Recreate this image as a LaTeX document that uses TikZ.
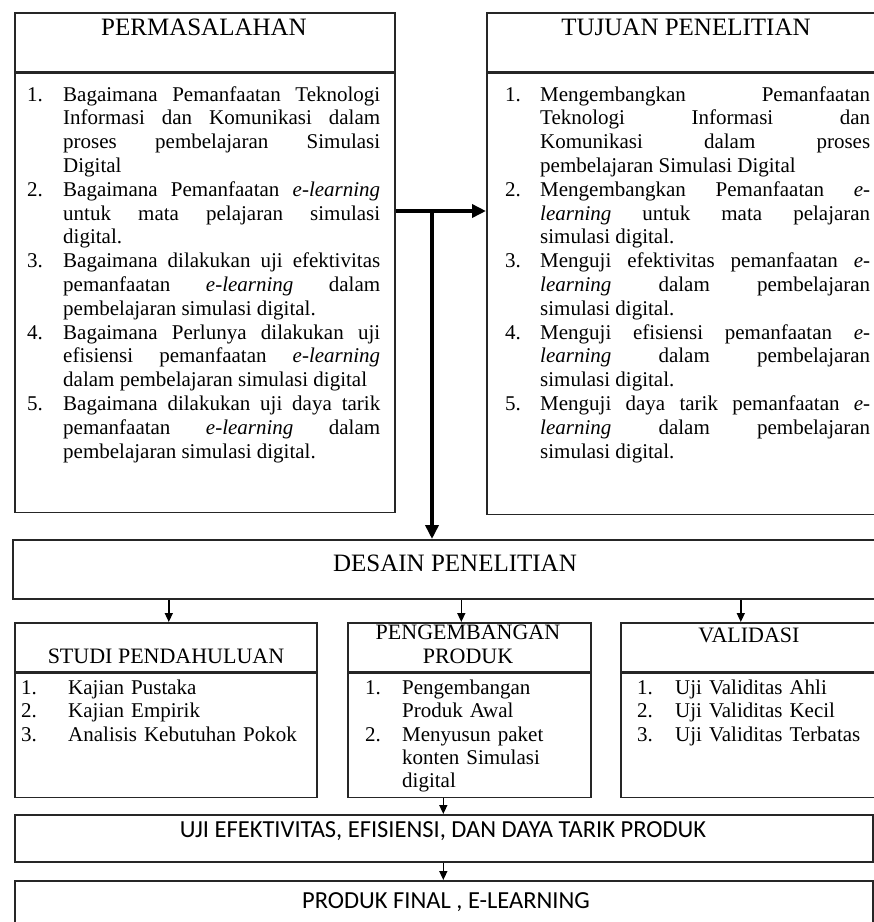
\documentclass[tikz,border=0pt]{standalone}
\usepackage{fontspec}
\setmainfont{Liberation Serif}
\newfontfamily\calibrifont{Carlito}
\usetikzlibrary{arrows.meta, positioning, calc}

\tolerance=10000
\hbadness=10000
\hyphenpenalty=10000
\exhyphenpenalty=10000

\newlength{\numind}
\newcommand{\itm}[2]{\par\noindent\hangindent=\numind\hangafter=1\makebox[\numind][l]{#1}#2\par}
\newcommand{\el}{\textit{e-learning}}
\newcommand{\topstrut}{\rule{0pt}{17pt}}

\tikzset{
  frame/.style={draw=black!85, line width=1.6pt, inner sep=0pt},
  titletext/.style={inner sep=0pt, anchor=base, font=\fontsize{25}{28}\selectfont},
  subtitle/.style={inner sep=0pt, anchor=base, font=\fontsize{22}{24}\selectfont},
  listtext/.style={inner sep=0pt, anchor=north west, align=justify, font=\fontsize{21}{23.8}\selectfont},
  bottomlist/.style={listtext, align=left, font=\fontsize{21}{23.3}\selectfont},
  sanstext/.style={inner sep=0pt, anchor=base, font=\calibrifont\fontsize{24.5}{28}\selectfont},
  bigarrow/.style={line width=3.5pt, -{Triangle[length=14pt,width=13pt]}},
  smallarrow/.style={line width=1.5pt, -{Triangle[length=9pt,width=8pt]}}
}

\begin{document}
\begin{tikzpicture}[x=1pt, y=-1pt]
  \useasboundingbox (0,0) rectangle (874,922);
  \clip (0,0) rectangle (874,922);

  % top boxes
  \node[frame, anchor=north west, minimum width=380pt, minimum height=59pt] (permhead) at (14,12) {};
  \node[frame, anchor=north, minimum width=380pt, minimum height=439pt] (permbody) at (permhead.south) {};
  \node[frame, anchor=north west, minimum width=400pt, minimum height=59pt] (tujuanhead) at (486,12) {};
  \node[frame, anchor=north, minimum width=400pt, minimum height=441pt] (tujuanbody) at (tujuanhead.south) {};

  \node[titletext] (permtitle) at (204,35) {PERMASALAHAN};
  \node[titletext] (tujuantitle) at (686,35) {TUJUAN PENELITIAN};

  \node[listtext, text width=353pt] (permlist) at (27,77) {%
    \setlength{\numind}{36pt}%
    \itm{\topstrut 1.}{Bagaimana Pemanfaatan Teknologi\linebreak Informasi dan Komunikasi dalam\linebreak proses pembelajaran Simulasi\linebreak Digital}
    \itm{2.}{Bagaimana Pemanfaatan \el\linebreak untuk mata pelajaran simulasi\linebreak digital.}
    \itm{3.}{Bagaimana dilakukan uji efektivitas\linebreak pemanfaatan \el{} dalam\linebreak pembelajaran simulasi digital.}
    \itm{4.}{Bagaimana Perlunya dilakukan uji\linebreak efisiensi pemanfaatan \el\linebreak dalam pembelajaran simulasi digital}
    \itm{5.}{Bagaimana dilakukan uji daya tarik\linebreak pemanfaatan \el{} dalam\linebreak pembelajaran simulasi digital.}};

  \node[listtext, text width=365pt] (tujuanlist) at (505,77) {%
    \setlength{\numind}{35pt}%
    \itm{\topstrut 1.}{Mengembangkan Pemanfaatan\linebreak Teknologi Informasi dan\linebreak Komunikasi dalam proses\linebreak pembelajaran Simulasi Digital}
    \itm{2.}{Mengembangkan Pemanfaatan \textit{e-}\linebreak\textit{learning} untuk mata pelajaran\linebreak simulasi digital.}
    \itm{3.}{Menguji efektivitas pemanfaatan \textit{e-}\linebreak\textit{learning} dalam pembelajaran\linebreak simulasi digital.}
    \itm{4.}{Menguji efisiensi pemanfaatan \textit{e-}\linebreak\textit{learning} dalam pembelajaran\linebreak simulasi digital.}
    \itm{5.}{Menguji daya tarik pemanfaatan \textit{e-}\linebreak\textit{learning} dalam pembelajaran\linebreak simulasi digital.}};

  % design box
  \node[frame, anchor=north west, minimum width=874pt, minimum height=59pt] (desain) at (12,539) {};
  \node[titletext] (desaintitle) at (455,571) {DESAIN PENELITIAN};

  % three stages
  \node[frame, anchor=north west, minimum width=302pt, minimum height=49pt] (studihead) at (14,622) {};
  \node[frame, anchor=north, minimum width=302pt, minimum height=124pt] (studibody) at (studihead.south) {};
  \node[frame, anchor=north west, minimum width=243pt, minimum height=49pt] (penghead) at (347,622) {};
  \node[frame, anchor=north, minimum width=243pt, minimum height=124pt] (pengbody) at (penghead.south) {};
  \node[frame, anchor=north west, minimum width=258pt, minimum height=49pt] (valhead) at (620,622) {};
  \node[frame, anchor=north, minimum width=258pt, minimum height=124pt] (valbody) at (valhead.south) {};

  \node[subtitle] (studititle) at (166,663) {STUDI PENDAHULUAN};
  \node[subtitle, anchor=north, align=center] (pengtitle) at (468,622) {\topstrut PENGEMBANGAN\\PRODUK};
  \node[subtitle] (valtitle) at (749,642) {VALIDASI};

  \node[bottomlist, text width=290pt] (studilist) at (21,671) {%
    \setlength{\numind}{47pt}%
    \itm{\topstrut 1.}{Kajian Pustaka}
    \itm{2.}{Kajian Empirik}
    \itm{3.}{Analisis Kebutuhan Pokok}};
  \node[bottomlist, text width=220pt] (penglist) at (365,671) {%
    \setlength{\numind}{37pt}%
    \itm{\topstrut 1.}{Pengembangan\linebreak Produk Awal}
    \itm{2.}{Menyusun paket\linebreak konten Simulasi\linebreak digital}};
  \node[bottomlist, text width=240pt] (vallist) at (637,671) {%
    \setlength{\numind}{38pt}%
    \itm{\topstrut 1.}{Uji Validitas Ahli}
    \itm{2.}{Uji Validitas Kecil}
    \itm{3.}{Uji Validitas Terbatas}};

  % test and final product
  \node[frame, anchor=north west, minimum width=858pt, minimum height=47pt] (uji) at (14,814) {};
  \node[frame, anchor=north west, minimum width=858pt, minimum height=60pt] (produk) at (14,880) {};
  \node[sanstext] (ujititle) at (443,837) {UJI EFEKTIVITAS, EFISIENSI, DAN DAYA TARIK PRODUK};
  \node[sanstext] (produktitle) at (446,908) {PRODUK FINAL , E-LEARNING};

  % connectors
  \coordinate (junc) at (432,211);
  \draw[bigarrow] (junc -| permbody.east) -- (junc -| tujuanbody.west);
  \draw[bigarrow] (junc) -- (junc |- desain.north);

  \coordinate (studiin) at ([xshift=3pt]studihead.north);
  \coordinate (pengin) at ([xshift=-8pt]penghead.north);
  \coordinate (valin) at ([xshift=-9pt]valhead.north);
  \draw[smallarrow] (desain.south -| studiin) -- (studiin);
  \draw[smallarrow] (desain.south -| pengin) -- (pengin);
  \draw[smallarrow] (desain.south -| valin) -- (valin);

  \coordinate (pengout) at ([xshift=-26pt]pengbody.south);
  \draw[smallarrow] (pengout) -- (uji.north -| pengout);
  \draw[smallarrow] (uji.south -| pengout) -- (produk.north -| pengout);
\end{tikzpicture}
\end{document}
